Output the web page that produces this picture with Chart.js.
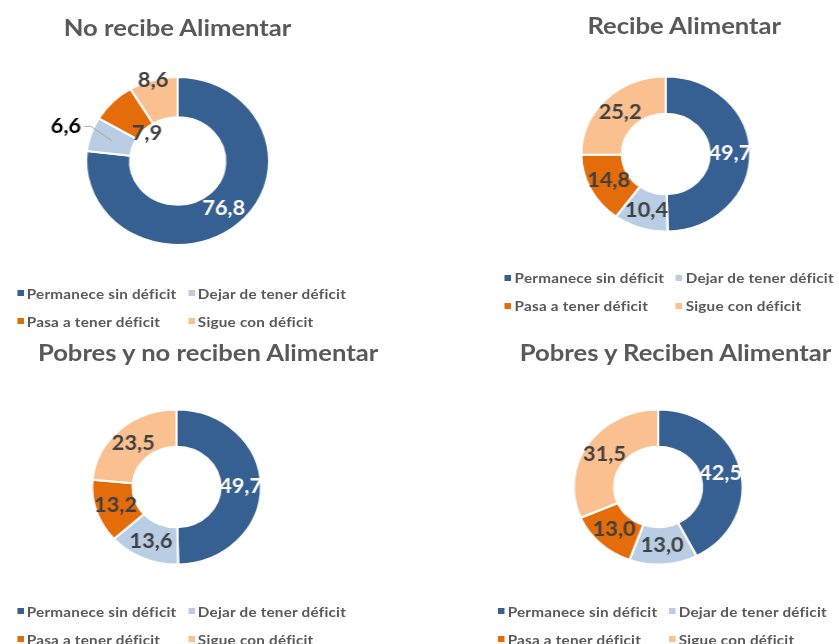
<!DOCTYPE html>
<html>
<head>
<meta charset="utf-8">
<script src="https://cdn.jsdelivr.net/npm/chart.js@4.4.1/dist/chart.umd.min.js"></script>
<style>
  html, body { margin:0; padding:0; background:#fff; }
  body { width:839px; height:644px; overflow:hidden; }
  /* reference is stretched horizontally, so draw at 770px and stretch */
  #page { position:relative; width:770px; height:644px; transform:scaleX(1.0896); transform-origin:0 0; }
  .title { position:absolute; width:400px; text-align:center; font:bold 23.5px Lato, sans-serif; color:#595959; line-height:26px; white-space:nowrap; }
  .legend { position:absolute; display:grid; grid-template-columns:157px auto; grid-auto-rows:28px; font:bold 14px Lato, sans-serif; letter-spacing:0.2px; color:#595959; white-space:nowrap; }
  .legend span { display:flex; align-items:center; }
  .legend i { display:inline-block; width:6px; height:6px; margin-right:3px; }
  canvas { position:absolute; }
</style>
</head>
<body>
<div id="page"></div>
<script>
const categories = ['Permanece sin déficit', 'Dejar de tener déficit', 'Pasa a tener déficit', 'Sigue con déficit'];
const titles = ['No recibe Alimentar', 'Recibe Alimentar', 'Pobres y no reciben Alimentar', 'Pobres y Reciben Alimentar'];
const noRecibe = [76.8, 6.6, 7.9, 8.6];
const recibe = [49.7, 10.4, 14.8, 25.2];
const pobresNoReciben = [49.7, 13.6, 13.2, 23.5];
const pobresReciben = [42.5, 13.0, 13.0, 31.5];
const colors = ['#376092', '#B9CDE5', '#E46C0A', '#FAC090'];

// layout of each panel (unstretched px)
const panels = [
  { values: noRecibe,        title: titles[0], cx: 162.8, cy: 161,   R: 84,   tx: 163, ty: 27,  lx: 15.6,  ly: 293,   pos: [0.5, 1.6, -0.1, 1.0] },
  { values: recibe,          title: titles[1], cx: 611,   cy: 153.5, R: 77.5, tx: 628, ty: 25,  lx: 463.3, ly: 277.7 },
  { values: pobresNoReciben, title: titles[2], cx: 161.9, cy: 486.5, R: 77.5, tx: 191, ty: 352, lx: 15.6,  ly: 611 },
  { values: pobresReciben,   title: titles[3], cx: 603.7, cy: 486.5, R: 77.5, tx: 620, ty: 352, lx: 456.9, ly: 611 }
];

const page = document.getElementById('page');
const fmt = v => v.toFixed(1).replace('.', ',');

function sliceLabels(p){
  return {
    id: 'sliceLabels',
    afterDatasetsDraw(chart){
      const ctx = chart.ctx;
      const data = chart.data.datasets[0].data;
      ctx.save();
      ctx.font = 'bold 20px Lato, sans-serif';
      ctx.textAlign = 'center';
      ctx.textBaseline = 'middle';
      chart.getDatasetMeta(0).data.forEach((arc, i) => {
        const {x, y, startAngle, endAngle, innerRadius, outerRadius} =
          arc.getProps(['x','y','startAngle','endAngle','innerRadius','outerRadius'], true);
        const a = (startAngle + endAngle) / 2;
        const f = p.pos ? p.pos[i] : 0.5;
        const r = innerRadius + f * (outerRadius - innerRadius);
        const px = x + Math.cos(a) * r, py = y + Math.sin(a) * r;
        const text = fmt(data[i]);
        if (f > 1.2) {
          // label pulled outside the ring, with a leader line back to the slice
          const w = ctx.measureText(text).width;
          const mr = (innerRadius + outerRadius) / 2;
          const sx = px + w / 2 + 3;
          ctx.strokeStyle = '#A6A6A6';
          ctx.lineWidth = 1;
          ctx.beginPath();
          ctx.moveTo(sx, py);
          ctx.lineTo(sx + 6, py);
          ctx.lineTo(x + Math.cos(a) * mr, y + Math.sin(a) * mr);
          ctx.stroke();
          ctx.fillStyle = '#000';
        } else {
          ctx.fillStyle = i === 0 ? '#fff' : '#404040';
        }
        ctx.fillText(text, px, py);
      });
      ctx.restore();
    }
  };
}

panels.forEach(p => {
  const t = document.createElement('div');
  t.className = 'title';
  t.textContent = p.title;
  t.style.left = (p.tx - 200) + 'px';
  t.style.top = (p.ty - 13) + 'px';
  page.appendChild(t);

  const W = 280, H = 220;
  const canvas = document.createElement('canvas');
  canvas.width = W; canvas.height = H;
  canvas.style.left = (p.cx - W / 2) + 'px';
  canvas.style.top = (p.cy - H / 2) + 'px';
  page.appendChild(canvas);

  new Chart(canvas, {
    type: 'doughnut',
    data: { labels: categories, datasets: [{ data: p.values, backgroundColor: colors, borderColor: '#fff', borderWidth: 2 }] },
    options: {
      responsive: false, animation: false, events: [],
      radius: p.R, cutout: '52%',
      plugins: { legend: { display: false }, tooltip: { enabled: false } }
    },
    plugins: [sliceLabels(p)]
  });

  const leg = document.createElement('div');
  leg.className = 'legend';
  leg.style.left = p.lx + 'px';
  leg.style.top = (p.ly - 14) + 'px';
  categories.forEach((c, i) => {
    const s = document.createElement('span');
    const m = document.createElement('i');
    m.style.background = colors[i];
    s.appendChild(m);
    s.appendChild(document.createTextNode(c));
    leg.appendChild(s);
  });
  page.appendChild(leg);
});
</script>
</body>
</html>
